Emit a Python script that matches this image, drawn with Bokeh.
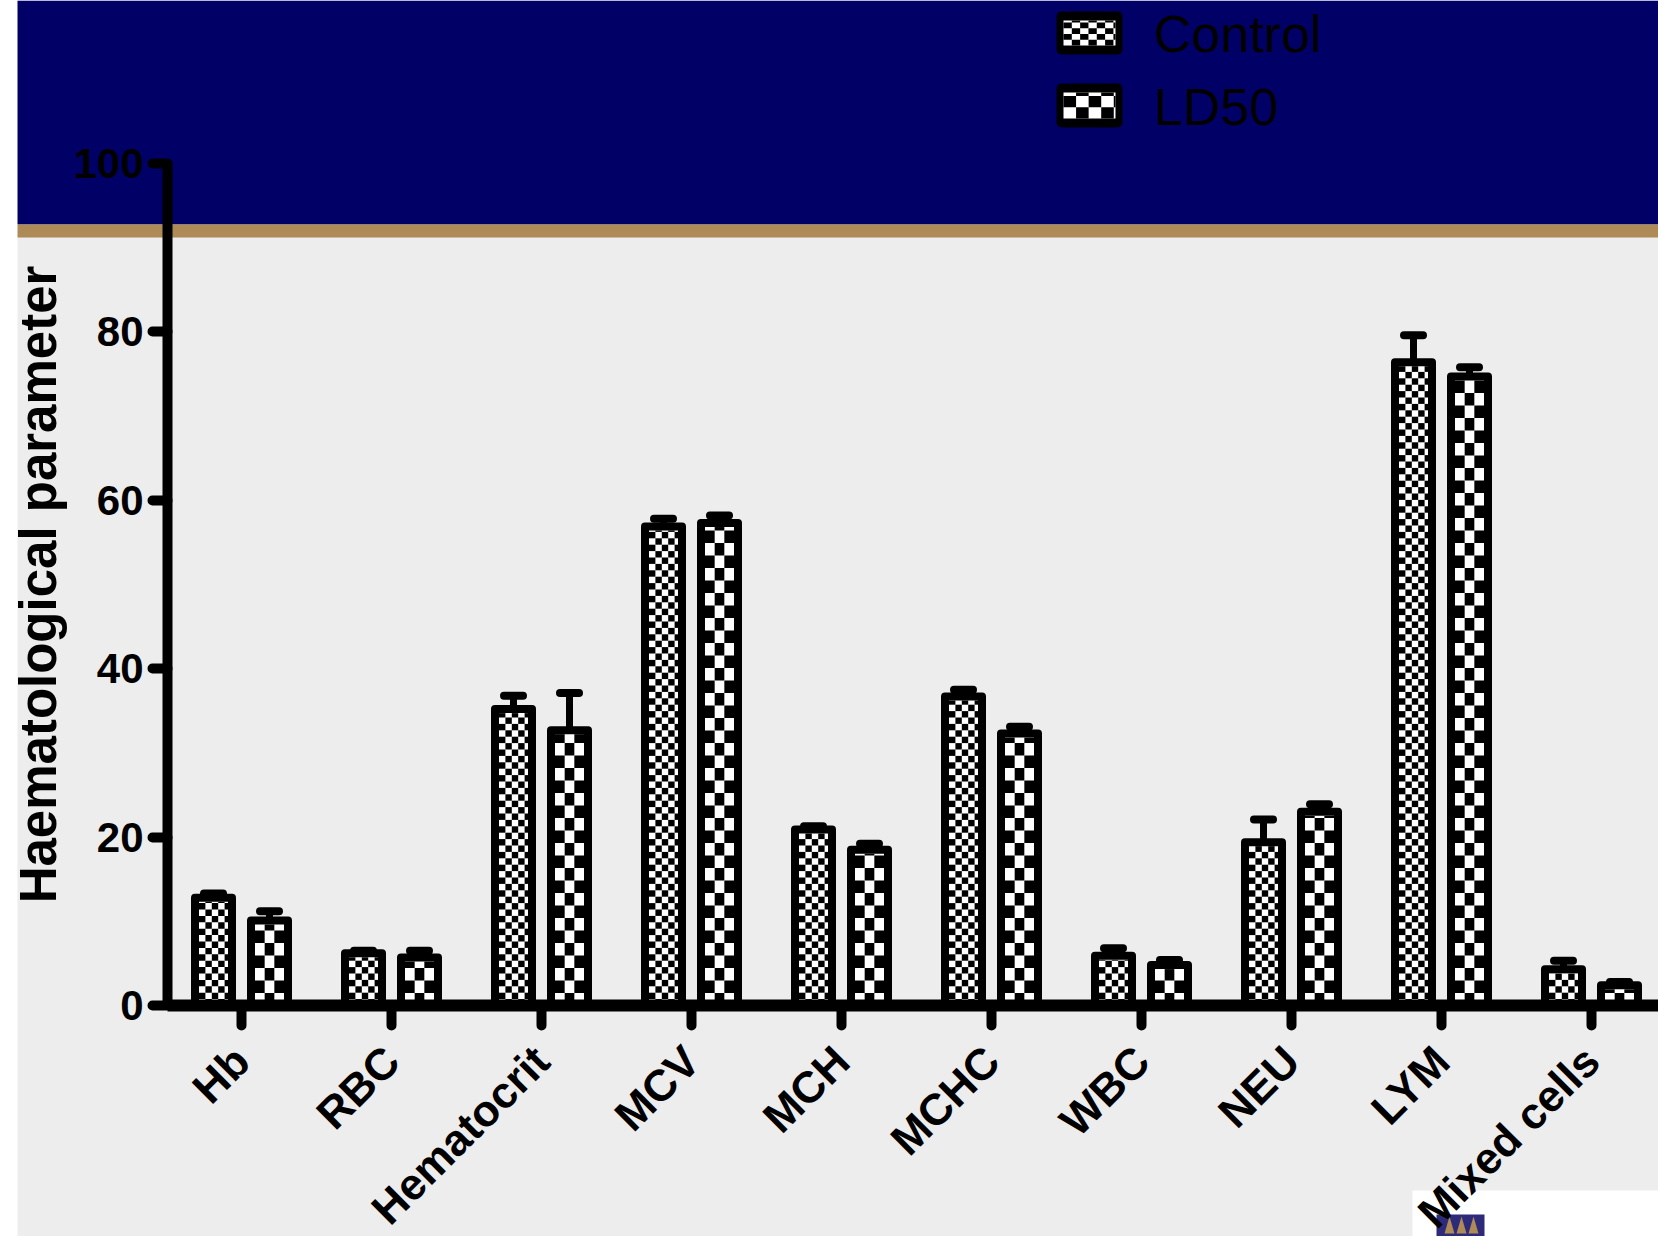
import numpy as np
from bokeh.plotting import figure
from bokeh.models import LinearAxis, FixedTicker, Label
from bokeh.embed import file_html
from bokeh.resources import INLINE

# ---- data -------------------------------------------------------------
categories = ["Hb", "RBC", "Hematocrit", "MCV", "MCH", "MCHC",
              "WBC", "NEU", "LYM", "Mixed cells"]
control_mean = [12.8, 6.2, 35.2, 56.9, 20.9, 36.7, 5.9, 19.4, 76.4, 4.3]
control_err = [0.5, 0.3, 1.6, 0.9, 0.4, 0.8, 0.9, 2.7, 3.2, 1.0]
ld50_mean = [10.1, 5.7, 32.7, 57.3, 18.5, 32.3, 4.8, 23.0, 74.7, 2.4]
ld50_err = [1.1, 0.8, 4.4, 0.9, 0.7, 0.8, 0.6, 0.9, 1.1, 0.4]
series_names = ["Control", "LD50"]
y_ticks = [0, 20, 40, 60, 80, 100]
y_title = "Haematological parameter"

# ---- page geometry (pixels) --------------------------------------------
W, H = 1658, 1236
FIRST_CAT_PX = 241      # centre of first category
STEP_PX = 150           # distance between categories
ZERO_PX = 1005          # y pixel of value 0
UNIT_PX = 8.42          # pixels per value unit
AXIS_X_PX = 167         # y axis line
TEXT_SHIFT = 20         # baseline correction for labels

x_start = 1 - FIRST_CAT_PX / STEP_PX
x_end = x_start + W / STEP_PX
y_start = -(H - ZERO_PX) / UNIT_PX
y_end = y_start + H / UNIT_PX


def sx(px):
    return x_start + px / STEP_PX


def sy(py):
    return y_end - py / UNIT_PX


def dx(px):
    return px / STEP_PX


def dy(px):
    return px / UNIT_PX


NAVY = "#000066"
TAN = "#AE8A57"
GRAY = "#EDEDED"

p = figure(width=W, height=H, x_range=(x_start, x_end), y_range=(y_start, y_end),
           min_border=0, toolbar_location=None, output_backend="svg",
           x_axis_location=None, y_axis_location=None,
           background_fill_color=GRAY, border_fill_color=GRAY)
p.outline_line_color = None
for g in p.grid:
    g.visible = False

# ---- slide background -------------------------------------------------
p.quad(left=sx(0), right=sx(W), bottom=sy(224), top=sy(0),
       fill_color=NAVY, line_color=None)
p.quad(left=sx(0), right=sx(W), bottom=sy(237), top=sy(224),
       fill_color=TAN, line_color=None)
p.quad(left=sx(1412), right=sx(W), bottom=sy(H), top=sy(1190),
       fill_color="white", line_color=None)
p.quad(left=sx(1436), right=sx(1484), bottom=sy(H), top=sy(1214),
       fill_color="#2E2A7A", line_color=None)
tree_cx = [1449, 1461, 1473]
p.patches(xs=[[sx(c - 5), sx(c), sx(c + 5)] for c in tree_cx],
          ys=[[sy(1233), sy(1216), sy(1233)] for _ in tree_cx],
          fill_color=TAN, line_color=None)


# ---- checkerboard fill ------------------------------------------------
def checker(left, right, bottom, top, cw, ch):
    L, R, B, T = [], [], [], []
    ncols = int(np.ceil((right - left) / cw - 1e-9))
    nrows = int(np.ceil((top - bottom) / ch - 1e-9))
    for r in range(nrows):
        y0 = bottom + r * ch
        y1 = min(top, y0 + ch)
        for c in range(ncols):
            if (r + c) % 2 == 0:
                continue
            x0 = left + c * cw
            x1 = min(right, x0 + cw)
            L.append(x0); R.append(x1); B.append(y0); T.append(y1)
    return dict(left=L, right=R, bottom=B, top=T)


BAR_W_PX = 37
OFFSET_PX = 28
OUTLINE = 8
inner_w_px = BAR_W_PX - OUTLINE
cells_px = {
    "Control": (6.4, 6.4),
    "LD50": (inner_w_px / 3, 12.5),
}

xpos = np.arange(1, len(categories) + 1)
series = [("Control", control_mean, control_err, -OFFSET_PX),
          ("LD50", ld50_mean, ld50_err, OFFSET_PX)]

for name, means, errs, off in series:
    xs = xpos + dx(off)
    cw, ch = cells_px[name]
    p.vbar(x=xs, top=means, bottom=0, width=dx(BAR_W_PX),
           fill_color="white", line_color=None)
    allc = dict(left=[], right=[], bottom=[], top=[])
    for xc, m in zip(xs, means):
        c = checker(xc - dx(inner_w_px / 2), xc + dx(inner_w_px / 2),
                    0, m - dy(OUTLINE / 2), dx(cw), dy(ch))
        for k in allc:
            allc[k].extend(c[k])
    p.quad(**allc, fill_color="black", line_color=None)
    p.vbar(x=xs, top=means, bottom=0, width=dx(BAR_W_PX),
           fill_color=None, line_color="black", line_width=OUTLINE,
           line_join="round")
    tops = np.array(means) + np.array(errs)
    p.segment(x0=xs, y0=means, x1=xs, y1=tops, line_color="black", line_width=7)
    p.segment(x0=xs - dx(9.5), y0=tops, x1=xs + dx(9.5), y1=tops,
              line_color="black", line_width=8, line_cap="round")

# ---- legend -------------------------------------------------------------
NARROW = "'Liberation Sans Narrow', 'Arial Narrow', 'Liberation Sans', sans-serif"
SW_L, SW_R = 1056, 1122
legend_rows = [(11, 54, 53), (83, 127, 126)]
for name, (top_px, bot_px, base_px) in zip(series_names, legend_rows):
    p.quad(left=sx(SW_L), right=sx(SW_R), bottom=sy(bot_px), top=sy(top_px),
           fill_color="black", line_color=None, border_radius=5)
    p.quad(left=sx(SW_L + 7), right=sx(SW_R - 7), bottom=sy(bot_px - 9),
           top=sy(top_px + 9), fill_color="white", line_color=None)
    cw, ch = cells_px[name]
    lc = checker(sx(SW_L + 7), sx(SW_R - 7), sy(bot_px - 9), sy(top_px + 9),
                 dx(cw * 1.3), dy(ch * 0.9))
    p.quad(**lc, fill_color="black", line_color=None)
    p.add_layout(Label(x=sx(1153), y=sy(base_px - TEXT_SHIFT), text=name,
                       text_baseline="alphabetic", text_align="left",
                       text_font=NARROW, text_font_size="52px",
                       text_color="black"))

# ---- axes -------------------------------------------------------------
yax = LinearAxis(fixed_location=sx(AXIS_X_PX), bounds=(0, 100),
                 ticker=FixedTicker(ticks=y_ticks))
yax.axis_line_width = 10
yax.axis_line_color = "black"
yax.major_tick_line_width = 10
yax.major_tick_line_cap = "round"
yax.major_tick_out = 15
yax.major_tick_in = 0
yax.minor_tick_line_color = None
yax.major_label_standoff = 9
yax.major_label_text_font = NARROW
yax.major_label_text_font_size = "42px"
yax.major_label_text_font_style = "bold"
yax.major_label_text_color = "black"
p.add_layout(yax, "left")

xax = LinearAxis(fixed_location=0, bounds=(sx(AXIS_X_PX), x_end + 1),
                 ticker=FixedTicker(ticks=list(xpos)),
                 major_label_overrides={int(i): c for i, c in zip(xpos, categories)})
xax.axis_line_width = 12
xax.axis_line_color = "black"
xax.major_tick_line_width = 10
xax.major_tick_line_cap = "round"
xax.major_tick_out = 20
xax.major_tick_in = 0
xax.minor_tick_line_color = None
xax.major_label_orientation = np.pi / 4
xax.major_label_standoff = 28
xax.major_label_text_font = "Liberation Sans"
xax.major_label_text_font_size = "44px"
xax.major_label_text_font_style = "bold"
xax.major_label_text_color = "black"
p.add_layout(xax, "below")

p.add_layout(Label(x=sx(58 - TEXT_SHIFT), y=sy(584), text=y_title, angle=np.pi / 2,
                   text_align="center", text_baseline="alphabetic",
                   text_font="Liberation Sans", text_font_size="51px",
                   text_font_style="bold", text_color="black"))

# white margin strip on the left edge, drawn above everything
p.quad(left=sx(-5), right=sx(17), bottom=sy(H + 5), top=sy(-5),
       fill_color="white", line_color=None, level="overlay")

open("out.html", "w").write(file_html(p, INLINE))
